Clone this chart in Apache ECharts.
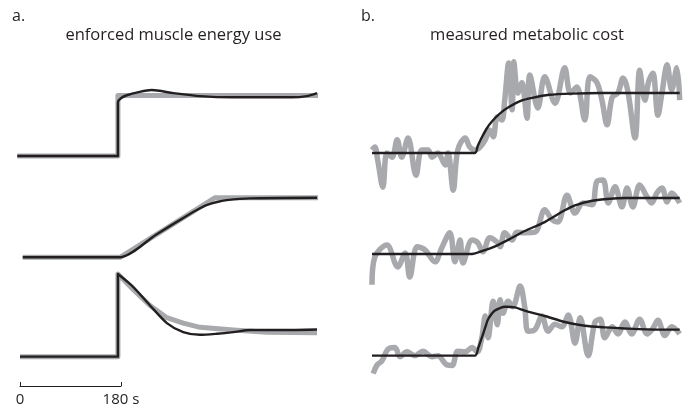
<!DOCTYPE html>
<html><head><meta charset="utf-8">
<script src="https://cdn.jsdelivr.net/npm/echarts@6/dist/echarts.min.js"></script>
<style>html,body{margin:0;padding:0;background:#fff}#c{width:689px;height:410px}</style>
</head><body><div id="c"></div>
<script>
// ---------- DATA (time in s, value in normalised units: baseline 0, new steady level 1) ----------
// Panel a: enforced muscle energy use
const aStepEnforced   = [[-5,0],[180,0],[180,1],[548,1]];
const aStepModel      = [[-5,0],[180,0],[180,0.89],[185,0.95],[195,1.0],[220,1.06],[242,1.09],[282,1.04],[331,0.99],[390,0.97],[500,0.97],[527,0.99],[546,1.04]];
const aRampEnforced   = [[5,0],[184,0],[358,1],[548,1]];
const aRampModel      = [[5,0],[184,0],[250,0.38],[307,0.7],[330,0.82],[344,0.88],[362,0.93],[380,0.96],[423,0.99],[546,1.0]];
const aSpikeEnforced  = [[0,0],[180,0],[180,1.55],[208,1.26],[239,0.96],[270,0.73],[300,0.63],[331,0.55],[392,0.5],[454,0.46],[546,0.45]];
const aSpikeModel     = [[0,0],[180,0],[180,1.55],[208,1.31],[239,0.96],[270,0.63],[300,0.46],[331,0.41],[362,0.43],[392,0.46],[423,0.5],[483,0.5],[546,0.51]];
// Panel b: measured metabolic cost
const bStepMeasured = [[0,0.05],[5,0.1],[10,-0.12],[19,-0.57],[26,0],[35,-0.07],[44,0.22],[52,-0.07],[63,0.25],[77,-0.37],[87,0.05],[98,0.05],[105,-0.07],[115,0],[128,-0.2],[133,0],[142,-0.62],[150,0.05],[163,0.25],[171,0.1],[180,0.05],[189,0.1],[198,0.22],[206,0.38],[212,0.27],[219,0.6],[227,0.55],[232,0.88],[239,1.5],[245,0.72],[248,1.52],[255,1.0],[262,1.17],[271,0.58],[276,1.3],[290,0.75],[302,1.27],[320,0.83],[337,1.42],[347,1.0],[358,1.1],[372,0.55],[381,1.27],[393,1.18],[402,0.88],[411,0.47],[420,0.93],[430,1.0],[439,1.25],[447,1.05],[460,0.25],[468,1.38],[477,0.88],[484,1.2],[491,1.33],[500,0.63],[507,1.0],[516,1.47],[524,1.05],[533,1.42],[538,0.88]];
const bStepModel    = [[0,0],[180,0],[185,0.12],[190,0.22],[200,0.4],[210,0.53],[225,0.67],[240,0.77],[260,0.87],[280,0.92],[310,0.97],[350,0.99],[400,1],[538,1]];
const bRampMeasured = [[0,-0.55],[5,-0.05],[26,0.16],[45,-0.23],[58,0.02],[66,-0.41],[79,0.13],[93,0.07],[110,-0.14],[122,0.11],[136,0.38],[145,-0.14],[154,0.25],[159,-0.16],[175,0.25],[185,0.2],[194,0.04],[206,0.29],[219,0.21],[224,0.13],[232,0.38],[245,0.25],[253,0.39],[267,0.38],[285,0.39],[302,0.79],[315,0.61],[325,0.57],[341,1.05],[355,0.73],[369,0.91],[385,0.88],[393,1.29],[404,1.32],[413,0.91],[425,1.2],[437,0.84],[446,1.18],[456,0.84],[468,1.23],[481,1.02],[489,0.91],[498,1.09],[507,1.18],[516,0.93],[524,1.09],[538,0.91]];
const bRampModel    = [[0,0],[175,0],[192,0.05],[220,0.16],[245,0.29],[267,0.41],[302,0.57],[337,0.78],[355,0.87],[385,0.95],[442,1.0],[538,1.0]];
const bSpikeMeasured = [[2,-0.33],[9,-0.17],[17,-0.1],[28,0.12],[40,0.15],[49,-0.02],[61,0.07],[75,0],[89,0.08],[105,-0.02],[115,0],[131,-0.17],[140,-0.18],[150,0.08],[163,0.07],[175,0.15],[184,0.07],[192,0.33],[198,0.73],[203,0.33],[212,1.0],[219,0.57],[224,1.03],[229,0.78],[238,1.0],[246,0.9],[259,1.28],[267,0.9],[273,0.45],[285,0.48],[297,0.73],[308,0.45],[320,0.58],[332,0.53],[343,0.75],[355,0.23],[364,0.7],[378,0],[390,0.62],[399,0.67],[407,0.33],[420,0.53],[430,0.4],[442,0.62],[454,0.4],[468,0.67],[481,0.4],[491,0.5],[500,0.65],[512,0.37],[524,0.53],[538,0.4]];
const bSpikeModel    = [[0,0],[180,0],[186,0.15],[192,0.33],[198,0.52],[203,0.67],[215,0.83],[233,0.9],[250,0.89],[267,0.83],[302,0.73],[337,0.62],[372,0.55],[407,0.52],[442,0.5],[500,0.48],[538,0.48]];
const scaleBarTicks = [0, 180];
const titleA = 'enforced muscle energy use';
const titleB = 'measured metabolic cost';

// ---------- LAYOUT ----------
const GRAY = '#a7a9ac', BLACK = '#231f20';
const FONT = '"Open Sans", "Liberation Sans", sans-serif';
const panels = {
  a: {left: 9.12, width: 315.5, min: -20, max: 560},
  b: {left: 360.56, width: 326, min: -20, max: 550}
};
const rows = [
  {p:'a', base:156,   unit:60.5, gray:aStepEnforced,  black:aStepModel,  gw:5,   gs:false},
  {p:'a', base:257.3, unit:59.5, gray:aRampEnforced,  black:aRampModel,  gw:5,   gs:false},
  {p:'a', base:371,   unit:60.5, gray:aSpikeEnforced, black:aSpikeModel, gw:5,   gs:false},
  {p:'b', base:153,   unit:60,   gray:bStepMeasured,  black:bStepModel,  gw:5.5, gs:0.35},
  {p:'b', base:254,   unit:56,   gray:bRampMeasured,  black:bRampModel,  gw:5.5, gs:0.35},
  {p:'b', base:367,   unit:60,   gray:bSpikeMeasured, black:bSpikeModel, gw:5.5, gs:0.35}
];
const grid = [], xAxis = [], yAxis = [], series = [];
rows.forEach((r, i) => {
  const P = panels[r.p];
  grid.push({left: P.left, width: P.width, top: r.base - 2*r.unit, height: 3*r.unit});
  xAxis.push({gridIndex: i, type: 'value', min: P.min, max: P.max, show: false});
  yAxis.push({gridIndex: i, type: 'value', min: -1, max: 2, show: false});
  series.push({type:'line', xAxisIndex:i, yAxisIndex:i, data:r.gray, symbol:'none', clip:false, smooth:r.gs,
    lineStyle:{color:GRAY, width:r.gw, join:'round', cap:'butt'}, z:2});
  series.push({type:'line', xAxisIndex:i, yAxisIndex:i, data:r.black, symbol:'none', clip:false, smooth:0.25,
    lineStyle:{color:BLACK, width:2.4, join:'round', cap:'butt'}, z:3});
});
// scale bar
grid.push({left: 20, width: 101, top: 385, height: 1});
xAxis.push({gridIndex: 6, type:'value', min: scaleBarTicks[0], max: scaleBarTicks[1], interval: 180,
  axisLine:{show:true, lineStyle:{color:BLACK, width:1}},
  axisTick:{show:true, inside:true, length:4, lineStyle:{color:BLACK, width:1}},
  splitLine:{show:false},
  axisLabel:{show:true, fontSize:15, color:BLACK, fontFamily:FONT, margin:6,
    formatter: v => v === 180 ? '180 s' : String(v)}});
yAxis.push({gridIndex: 6, type:'value', show:false});

const chart = echarts.init(document.getElementById('c'), null, {renderer:'canvas'});
chart.setOption({
  animation: false,
  backgroundColor: '#fff',
  grid, xAxis, yAxis, series,
  graphic: [
    {type:'text', x:12, y:16, style:{text:'a.', fill:BLACK, font:'16px ' + FONT, textVerticalAlign:'middle'}},
    {type:'text', x:173.5, y:35, style:{text:titleA, fill:BLACK, font:'16.5px ' + FONT, textAlign:'center', textVerticalAlign:'middle'}},
    {type:'text', x:361, y:16, style:{text:'b.', fill:BLACK, font:'16px ' + FONT, textVerticalAlign:'middle'}},
    {type:'text', x:527, y:35, style:{text:titleB, fill:BLACK, font:'16.5px ' + FONT, textAlign:'center', textVerticalAlign:'middle'}}
  ]
});
</script></body></html>
